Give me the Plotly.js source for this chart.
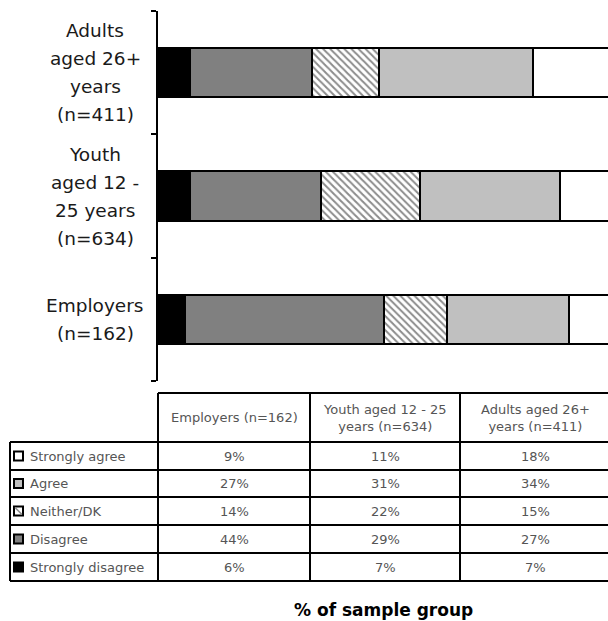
<!DOCTYPE html>
<html>
<head>
<meta charset="utf-8">
<script src="https://cdn.plot.ly/plotly-3.0.1.min.js"></script>
<style>
  html, body { margin: 0; padding: 0; background: #ffffff; overflow: hidden; }
  #chart { width: 608px; height: 621px; }
</style>
</head>
<body>
<div id="chart"></div>
<script>
// ---------------- data ----------------
const categories = ['Employers (n=162)', 'Youth aged 12 - 25 years (n=634)', 'Adults aged 26+ years (n=411)'];
const categoryLabelLines = [
  ['Employers', '(n=162)'],
  ['Youth', 'aged 12 -', '25 years', '(n=634)'],
  ['Adults', 'aged 26+', 'years', '(n=411)']
];
const seriesNames = ['Strongly disagree', 'Disagree', 'Neither/DK', 'Agree', 'Strongly agree'];
const stronglyDisagree = [6, 7, 7];
const disagree = [44, 29, 27];
const neither = [14, 22, 15];
const agree = [27, 31, 34];
const stronglyAgree = [9, 11, 18];
const tableHeaders = ['Employers (n=162)', 'Youth aged 12 - 25<br>years (n=634)', 'Adults aged 26+<br>years (n=411)'];
const axisTitle = '% of sample group';

// ---------------- styling ----------------
const seriesValues = [stronglyDisagree, disagree, neither, agree, stronglyAgree];
const seriesFill = ['#000000', '#808080', '#ffffff', '#c0c0c0', '#ffffff'];

const W = 608, H = 621;
const M = {l: 158, r: 0, t: 11, b: 240};
const PW = W - M.l - M.r, PH = H - M.t - M.b;
const px = x => (x - M.l) / PW;
const py = y => (H - M.b - y) / PH;

const traces = seriesNames.map((name, i) => {
  const marker = {color: seriesFill[i], line: {color: '#000000', width: 2}};
  if (name === 'Neither/DK') {
    marker.pattern = {shape: '\\', fgcolor: '#8c8c8c', bgcolor: '#ffffff', size: 5, solidity: 0.4};
  }
  return {
    type: 'bar', orientation: 'h', name: name,
    y: categories, x: seriesValues[i],
    marker: marker, showlegend: false, hoverinfo: 'skip'
  };
});

const shapes = [];
const annotations = [];
const lineStyle = {color: '#000000', width: 2};
function hline(y, x0, x1) {
  shapes.push({type: 'line', xref: 'paper', yref: 'paper', x0: px(x0), x1: px(x1), y0: py(y), y1: py(y), line: lineStyle});
}
function vline(x, y0, y1) {
  shapes.push({type: 'line', xref: 'paper', yref: 'paper', x0: px(x), x1: px(x), y0: py(y0), y1: py(y1), line: lineStyle});
}

// category labels (centered multi-line)
const lineGap = 28;
categories.forEach((c, ci) => {
  const lines = categoryLabelLines[ci];
  lines.forEach((t, li) => {
    annotations.push({
      xref: 'paper', yref: 'y', x: px(95), y: c, xanchor: 'center', yanchor: 'middle',
      yshift: ((lines.length - 1) / 2 - li) * lineGap,
      text: t, showarrow: false,
      font: {family: 'DejaVu Sans', size: 18.5, color: '#1a1a1a'}
    });
  });
});

// table geometry
const colX = [158, 310, 460, 610];
const headTop = 393, headBot = 442;
const rowY = [442, 470, 497, 525, 553, 581];
const tableLeft = 10;
const tableFont = {family: 'DejaVu Sans', size: 13, color: '#555555'};

hline(headTop, colX[0], colX[3]);
hline(headBot, tableLeft, colX[3]);
for (let r = 1; r < rowY.length; r++) hline(rowY[r], tableLeft, colX[3]);
vline(tableLeft, rowY[0], rowY[rowY.length - 1]);
for (let c = 0; c < 3; c++) vline(colX[c], headTop, rowY[rowY.length - 1]);

// header texts
tableHeaders.forEach((h, c) => {
  annotations.push({
    xref: 'paper', yref: 'paper', x: px((colX[c] + colX[c + 1]) / 2), y: py((headTop + headBot) / 2),
    xanchor: 'center', yanchor: 'middle', align: 'center',
    text: h, showarrow: false, font: tableFont
  });
});

// body rows: reverse of stack order
const rowOrder = [4, 3, 2, 1, 0];
const tableCols = [0, 1, 2]; // Employers, Youth, Adults -> category indexes
rowOrder.forEach((si, r) => {
  const yc = (rowY[r] + rowY[r + 1]) / 2;
  // legend key
  const kx0 = 14, kx1 = 23, ky0 = yc - 4.5, ky1 = yc + 4.5;
  shapes.push({type: 'rect', xref: 'paper', yref: 'paper', x0: px(kx0), x1: px(kx1), y0: py(ky1), y1: py(ky0),
    fillcolor: seriesFill[si], line: {color: '#000000', width: 2}});
  if (seriesNames[si] === 'Neither/DK') {
    shapes.push({type: 'line', xref: 'paper', yref: 'paper', x0: px(kx0 + 1), x1: px(kx1 - 1), y0: py(ky0 + 1), y1: py(ky1 - 1),
      line: {color: '#8c8c8c', width: 1.5}});
  }
  annotations.push({
    xref: 'paper', yref: 'paper', x: px(28), y: py(yc), xanchor: 'left', yanchor: 'middle',
    text: seriesNames[si], showarrow: false, font: tableFont
  });
  tableCols.forEach((ci, c) => {
    annotations.push({
      xref: 'paper', yref: 'paper', x: px((colX[c] + colX[c + 1]) / 2), y: py(yc),
      xanchor: 'center', yanchor: 'middle',
      text: seriesValues[si][ci] + '%', showarrow: false, font: tableFont
    });
  });
});

// axis title
annotations.push({
  xref: 'paper', yref: 'paper', x: 0.5, y: py(610), xanchor: 'center', yanchor: 'middle',
  text: '<b>' + axisTitle + '</b>', showarrow: false,
  font: {family: 'DejaVu Sans', size: 17, color: '#000000'}
});

const layout = {
  width: W, height: H,
  margin: M,
  paper_bgcolor: '#ffffff', plot_bgcolor: '#ffffff',
  barmode: 'stack', bargap: 0.6,
  xaxis: {range: [0, 99.6], showgrid: false, zeroline: false, showline: false, showticklabels: false, ticks: '', fixedrange: true},
  yaxis: {
    type: 'category', categoryorder: 'array', categoryarray: categories, range: [-0.5, 2.5],
    showgrid: false, zeroline: false, showline: true, linecolor: '#000000', linewidth: 2,
    ticks: 'outside', tickson: 'boundaries', ticklen: 5, tickwidth: 2, tickcolor: '#000000',
    showticklabels: false, fixedrange: true
  },
  shapes: shapes,
  annotations: annotations
};

Plotly.newPlot('chart', traces, layout, {displayModeBar: false, staticPlot: true});
</script>
</body>
</html>
